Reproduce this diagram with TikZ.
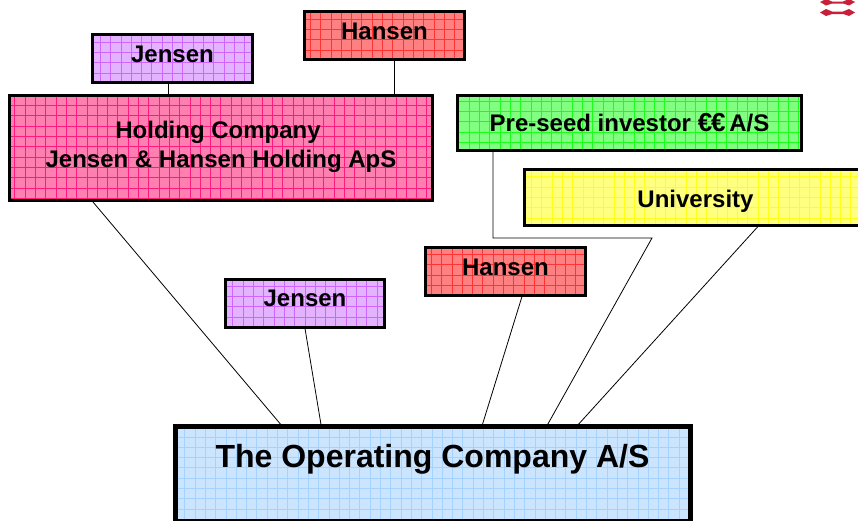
\documentclass[tikz,border=0pt]{standalone}
\usepackage{fontspec}
\setmainfont{Liberation Sans}
\definecolor{purpleA}{HTML}{E3B3FF}
\definecolor{purpleB}{HTML}{CC66FF}
\definecolor{redA}{HTML}{FF8080}
\definecolor{redB}{HTML}{FF3333}
\definecolor{pinkA}{HTML}{FF80B0}
\definecolor{pinkB}{HTML}{FF1A80}
\definecolor{greenA}{HTML}{80FF80}
\definecolor{greenB}{HTML}{1AFF1A}
\definecolor{yellowA}{HTML}{FFFF80}
\definecolor{yellowB}{HTML}{FFFF1A}
\definecolor{blueA}{HTML}{CCE5FF}
\definecolor{blueB}{HTML}{A6D2FF}
\definecolor{logored}{HTML}{C8203A}
\begin{document}
\begin{tikzpicture}[x=1pt,y=-1pt,
	gridbox/.style 2 args={draw=black, line width=3pt, fill=#1, inner sep=0pt, align=center, font=\bfseries\fontsize{24}{29}\selectfont,
		path picture={\draw[#2, line width=0.6pt, step=10.3pt, shift=(path picture bounding box.north west)] (path picture bounding box.south west) grid (path picture bounding box.north east);}},
	link/.style={line width=0.8pt, black}]
	%%%%% START %%%%%
	\useasboundingbox (0, 0) rectangle (858, 520);
	\clip (0, 0) rectangle (858, 520);

	\node[gridbox={purpleA}{purpleB}, minimum width=160pt, minimum height=48pt, text height=17pt, text depth=9pt] (jensenTop) at (172.5, 58.5) {Jensen};
	\node[gridbox={redA}{redB}, minimum width=160pt, minimum height=48pt, text height=17pt, text depth=9pt] (hansenTop) at (384.5, 35.5) {Hansen};
	\node[gridbox={pinkA}{pinkB}, minimum width=423pt, minimum height=105pt, text depth=8pt] (holding) at (221, 148) {Holding Company\hspace*{6pt}\\Jensen \& Hansen Holding ApS};
	\node[gridbox={greenA}{greenB}, minimum width=344pt, minimum height=55pt] (seed) at (629.5, 123) {Pre-seed investor {\fontsize{26}{29}\selectfont €\kern-1pt€}\kern-3pt\ A/S};
	\node[gridbox={yellowA}{yellowB}, minimum width=340pt, minimum height=56pt, text height=25pt, text depth=5pt] (university) at (694, 197.5) {\hspace*{3pt}University};
	\node[gridbox={redA}{redB}, minimum width=160pt, minimum height=48pt, text height=17pt, text depth=9pt] (hansenMid) at (505.5, 271) {Hansen};
	\node[gridbox={purpleA}{purpleB}, minimum width=159pt, minimum height=48pt, text height=17pt, text depth=10pt] (jensenMid) at (305, 303) {Jensen};
	\node[gridbox={blueA}{blueB}, line width=5pt, font=\bfseries\fontsize{32}{38}\selectfont, minimum width=515pt, minimum height=95.5pt, text height=25pt, text depth=37pt] (opco) at (432.5, 473.75) {The Operating Company A/S};

	\draw[link] ([xshift=77pt, yshift=3pt]jensenTop.south west) -- ([xshift=160pt]holding.north west);
	\draw[link] ([xshift=91pt]hansenTop.south west) -- ([xshift=386pt]holding.north west);
	\draw[link] ([xshift=85pt]holding.south west) -- ([xshift=110pt, yshift=-3pt]opco.north west);
	\draw[link] ([xshift=81pt]jensenMid.south west) -- ([xshift=149pt, yshift=-4pt]opco.north west);
	\draw[link] ([xshift=98pt]hansenMid.south west) -- ([xshift=309pt, yshift=-4pt]opco.north west);
	\coordinate (bendA) at (493, 238);
	\coordinate (bendB) at (652, 238);
	\draw[link] ([xshift=37pt, yshift=3pt]seed.south west) -- (bendA) -- (bendB) -- ([xshift=374pt, yshift=-3pt]opco.north west);
	\draw[link] ([xshift=235pt]university.south west) -- ([xshift=404pt, yshift=-3pt]opco.north west);

	% logo
	\fill[logored] (820, 2) -- (826, -1) -- (832, 1.5) -- (843, 1.5) -- (849, -1) -- (855, 2) -- (849, 5.5) -- (843, 3.5) -- (832, 3.5) -- (826, 5.5) -- cycle;
	\fill[logored] (820, 12.5) -- (826, 9) -- (832, 11.5) -- (843, 11.5) -- (849, 9) -- (855, 12.5) -- (849, 16) -- (843, 14) -- (832, 14) -- (826, 16) -- cycle;
	%%%%% END %%%%%
\end{tikzpicture}
\end{document}
